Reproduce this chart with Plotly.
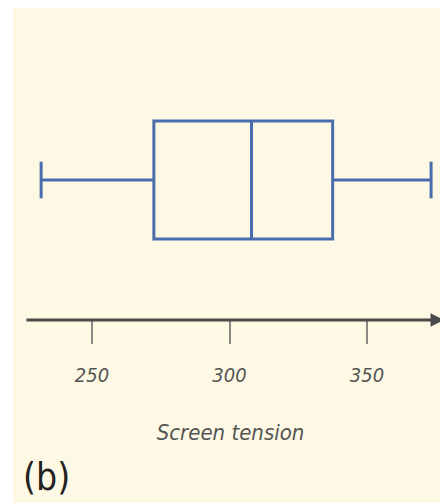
import plotly.graph_objects as go

# Data
lower_whisker = [231.5]
q1 = [272.5]
median = [308]
q3 = [337.5]
upper_whisker = [373.3]
tick_values = [250, 300, 350]
tick_labels = ["250", "300", "350"]
x_title = "Screen tension"
panel_label = "(b)"

BOX_COLOR = "#4a6ead"
CREAM = "#fef9e4"
FONT = "DejaVu Sans Condensed, Liberation Sans Narrow, Liberation Sans, sans-serif"

fig = go.Figure()
fig.add_trace(go.Box(
    y=[0], q1=q1, median=median, q3=q3,
    lowerfence=lower_whisker, upperfence=upper_whisker,
    orientation="h", width=2.384, whiskerwidth=0.31,
    line=dict(color=BOX_COLOR, width=3),
    fillcolor="rgba(0,0,0,0)", boxpoints=False, hoverinfo="skip",
    showlegend=False,
))

x_range = [221.27, 379.45]
axis_pos = 0.3697
fig.update_layout(
    width=440, height=495,
    margin=dict(l=5, r=0, t=0, b=0, pad=0),
    paper_bgcolor="white", plot_bgcolor=CREAM,
    xaxis=dict(
        range=x_range, anchor="free", position=axis_pos,
        tickvals=tick_values, ticktext=tick_labels,
        ticks="outside", ticklen=23, tickwidth=2, tickcolor="#8a8a84",
        showline=False, showgrid=False, zeroline=False,
        ticklabelstandoff=14,
        tickfont=dict(family=FONT, size=20, color="#555555", style="italic"),
        title=dict(text=x_title, standoff=38,
                   font=dict(family=FONT, size=22, color="#555555", style="italic")),
    ),
    yaxis=dict(range=[-6.525, 3.475], visible=False, showgrid=False, zeroline=False),
    annotations=[
        dict(x=378.0, y=axis_pos, xref="x", yref="paper",
             ax=225.6, ay=0, axref="x", ayref="pixel",
             showarrow=True, arrowhead=2, arrowsize=0.9, arrowwidth=3,
             arrowcolor="#4a4a4a", text=""),
        dict(x=0.018, y=0.052, xref="paper", yref="paper", xanchor="left", yanchor="middle",
             text=panel_label, showarrow=False,
             font=dict(family=FONT, size=37, color="#222222")),
    ],
)

fig.write_html("out.html")
